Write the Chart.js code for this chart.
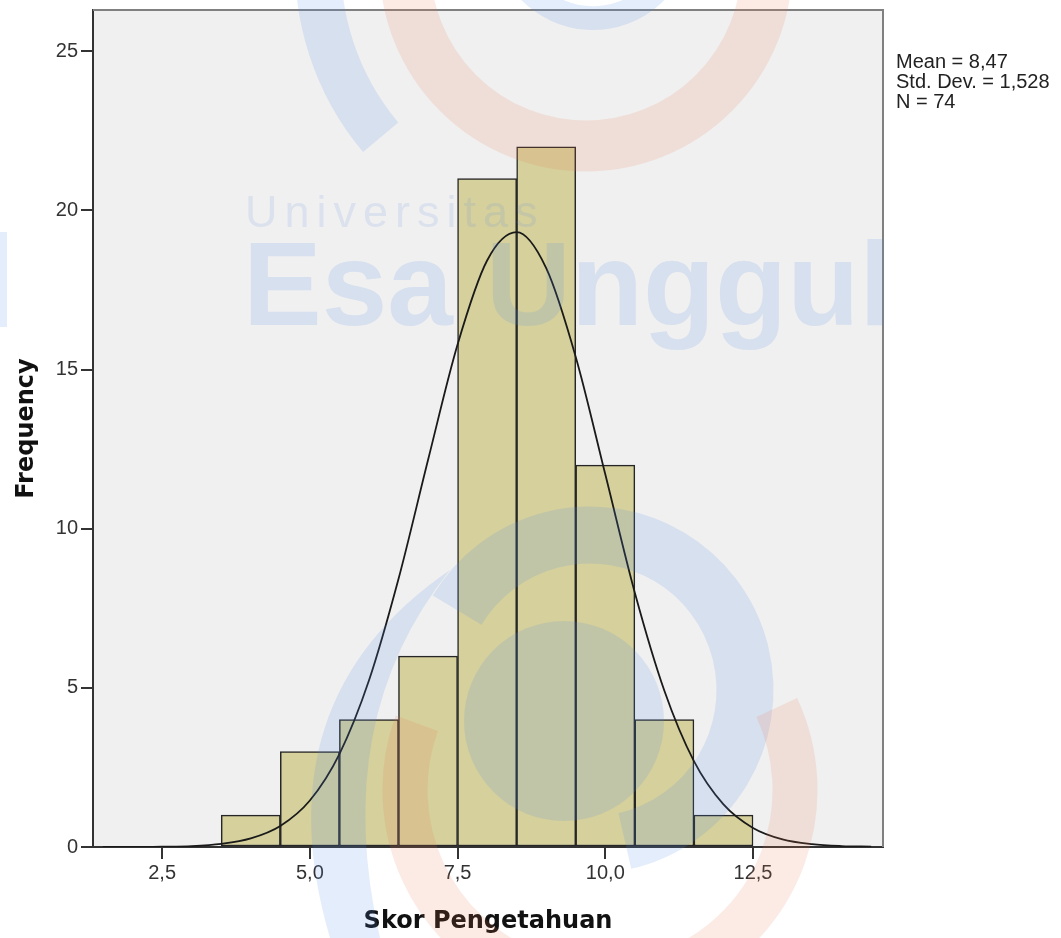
<!DOCTYPE html>
<html>
<head>
<meta charset="utf-8">
<script src="https://cdn.jsdelivr.net/npm/chart.js@4.4.1/dist/chart.umd.min.js"></script>
<style>
  html, body { margin: 0; padding: 0; background: #fff; }
  #wrap { width: 1061px; height: 938px; position: relative; }
</style>
</head>
<body>
<div id="wrap"><canvas id="hist"></canvas></div>
<script>
// Histogram: Skor Pengetahuan, with fitted normal curve (SPSS style)

const binCenters  = [4, 5, 6, 7, 8, 9, 10, 11, 12];
const frequencies = [1, 3, 4, 6, 21, 22, 12, 4, 1];

const curveX = [1.5, 2, 2.5, 3, 3.5, 4, 4.5, 5, 5.5, 6, 6.5, 7, 7.5, 8, 8.5,
                9, 9.5, 10, 10.5, 11, 11.5, 12, 12.5, 13, 13.5, 14, 14.5];
const curveY = [0, 0, 0.01, 0.03, 0.1, 0.27, 0.66, 1.46, 2.92, 5.23, 8.42, 12.16, 15.79, 18.43, 19.32,
                18.19, 15.4, 11.71, 7.99, 4.91, 2.7, 1.34, 0.6, 0.24, 0.09, 0.03, 0.01];

const xTicks = [2.5, 5, 7.5, 10, 12.5];
const yTicks = [0, 5, 10, 15, 20, 25];

const xTitle = 'Skor Pengetahuan';
const yTitle = 'Frequency';
const statLines = ['Mean = 8,47', 'Std. Dev. = 1,528', 'N = 74'];

const TICK_FONT = { family: 'Liberation Sans, Arial, sans-serif', size: 20 };
const AXIS_COL = '#333';

// ── plot background, frame, titles, stats box ───────────────
const frame = {
    id: 'frame',
    beforeDraw(chart) {
        const { ctx, chartArea: a } = chart;
        ctx.save();
        ctx.fillStyle = '#f0f0f0';
        ctx.fillRect(a.left, a.top, a.right - a.left, a.bottom - a.top);
        ctx.restore();
    },
    afterDraw(chart) {
        const { ctx, chartArea: a } = chart;
        ctx.save();
        // top + right frame
        ctx.strokeStyle = '#808080';
        ctx.lineWidth = 2;
        ctx.beginPath();
        ctx.moveTo(a.left, a.top);
        ctx.lineTo(a.right, a.top);
        ctx.lineTo(a.right, a.bottom);
        ctx.stroke();

        // axis titles
        ctx.fillStyle = '#111';
        ctx.font = 'bold 24px "DejaVu Sans", sans-serif';
        ctx.textAlign = 'center';
        ctx.textBaseline = 'alphabetic';
        ctx.fillText(xTitle, (a.left + a.right) / 2, 928);
        ctx.translate(33, (a.top + a.bottom) / 2);
        ctx.rotate(-Math.PI / 2);
        ctx.fillText(yTitle, 0, 0);
        ctx.setTransform(1, 0, 0, 1, 0, 0);

        // stats
        ctx.font = '20px "Liberation Sans", Arial, sans-serif';
        ctx.textAlign = 'left';
        ctx.fillStyle = '#222';
        statLines.forEach((s, i) => ctx.fillText(s, a.right + 13, 68 + i * 20));

        drawWatermark(ctx, a);
        ctx.restore();
    }
};

// faint university logo watermark laid over the image
function drawWatermark(ctx, a) {
    const blue = 'rgba(90,140,230,0.16)';
    const orange = 'rgba(235,120,80,0.15)';
    const rad = d => d * Math.PI / 180;
    ctx.save();
    ctx.lineCap = 'butt';

    // top logo
    ctx.strokeStyle = orange; ctx.lineWidth = 51;
    ctx.beginPath(); ctx.arc(586, -35, 181, 0, Math.PI * 2); ctx.stroke();
    ctx.strokeStyle = blue; ctx.lineWidth = 46;
    ctx.beginPath(); ctx.arc(586, -35, 268, rad(140), rad(184)); ctx.stroke();
    ctx.lineWidth = 24;
    ctx.beginPath(); ctx.arc(593, -70, 88, rad(25), rad(155)); ctx.stroke();

    // bottom logo
    ctx.fillStyle = blue;
    ctx.beginPath(); ctx.arc(564, 721, 100, 0, Math.PI * 2); ctx.fill();
    ctx.strokeStyle = blue; ctx.lineWidth = 57;
    ctx.beginPath(); ctx.arc(590, 690, 155, rad(-149), rad(77)); ctx.stroke();
    ctx.beginPath();
    ctx.moveTo(450, 570);
    ctx.quadraticCurveTo(260, 700, 330, 938);
    ctx.lineTo(380, 938);
    ctx.quadraticCurveTo(330, 720, 450, 570);
    ctx.fill();
    ctx.strokeStyle = orange; ctx.lineWidth = 45;
    ctx.beginPath(); ctx.arc(600, 790, 195, rad(-25), rad(200)); ctx.stroke();

    // text
    ctx.fillStyle = blue;
    ctx.fillRect(0, 232, 7, 95);
    ctx.beginPath(); ctx.rect(0, 0, a.right, 938); ctx.clip();
    ctx.font = '45px "Liberation Sans", Arial, sans-serif';
    ctx.letterSpacing = '7px';
    ctx.textAlign = 'left';
    ctx.fillStyle = 'rgba(90,140,230,0.14)';
    ctx.fillText('Universitas', 245, 227);
    ctx.letterSpacing = '0px';
    ctx.font = 'bold 118px "Liberation Sans", Arial, sans-serif';
    ctx.fillStyle = blue;
    ctx.fillText('Esa Unggul', 243, 325);
    ctx.restore();
}

new Chart(document.getElementById('hist'), {
    type: 'bar',
    data: {
        datasets: [
            {
                type: 'line',
                data: curveX.map((x, i) => ({ x, y: curveY[i] })),
                borderColor: '#1a1a1a',
                borderWidth: 1.8,
                pointRadius: 0,
                cubicInterpolationMode: 'monotone',
                fill: false,
                order: 0
            },
            {
                type: 'bar',
                data: binCenters.map((x, i) => ({ x, y: frequencies[i] })),
                backgroundColor: '#d5d09c',
                borderColor: '#262626',
                borderWidth: 1.5,
                borderSkipped: false,
                barPercentage: 1,
                categoryPercentage: 1,
                order: 1
            }
        ]
    },
    options: {
        responsive: true,
        maintainAspectRatio: false,
        animation: false,
        layout: { padding: { left: 0, right: 178, top: 10, bottom: 0 } },
        plugins: { legend: { display: false }, tooltip: { enabled: false } },
        scales: {
            x: {
                type: 'linear',
                offset: false,
                min: 1.33, max: 14.7,
                afterBuildTicks: s => { s.ticks = xTicks.map(v => ({ value: v })); },
                afterFit: s => { s.height = 91; s.paddingLeft = 0; s.paddingRight = 0; },
                ticks: {
                    callback: v => v.toFixed(1).replace('.', ','),
                    font: TICK_FONT, color: AXIS_COL, padding: 2,
                    maxRotation: 0, autoSkip: false
                },
                grid: { offset: false, drawOnChartArea: false, drawTicks: true, tickLength: 12, color: AXIS_COL, lineWidth: 2 },
                border: { color: AXIS_COL, width: 2 }
            },
            y: {
                min: 0, max: 26.3,
                afterBuildTicks: s => { s.ticks = yTicks.map(v => ({ value: v })); },
                afterFit: s => { s.width = 93; s.paddingTop = 0; s.paddingBottom = 0; },
                ticks: { font: TICK_FONT, color: AXIS_COL, padding: 3 },
                grid: { drawOnChartArea: false, drawTicks: true, tickLength: 12, color: AXIS_COL, lineWidth: 2 },
                border: { color: AXIS_COL, width: 2 }
            }
        }
    },
    plugins: [frame]
});
</script>
</body>
</html>
